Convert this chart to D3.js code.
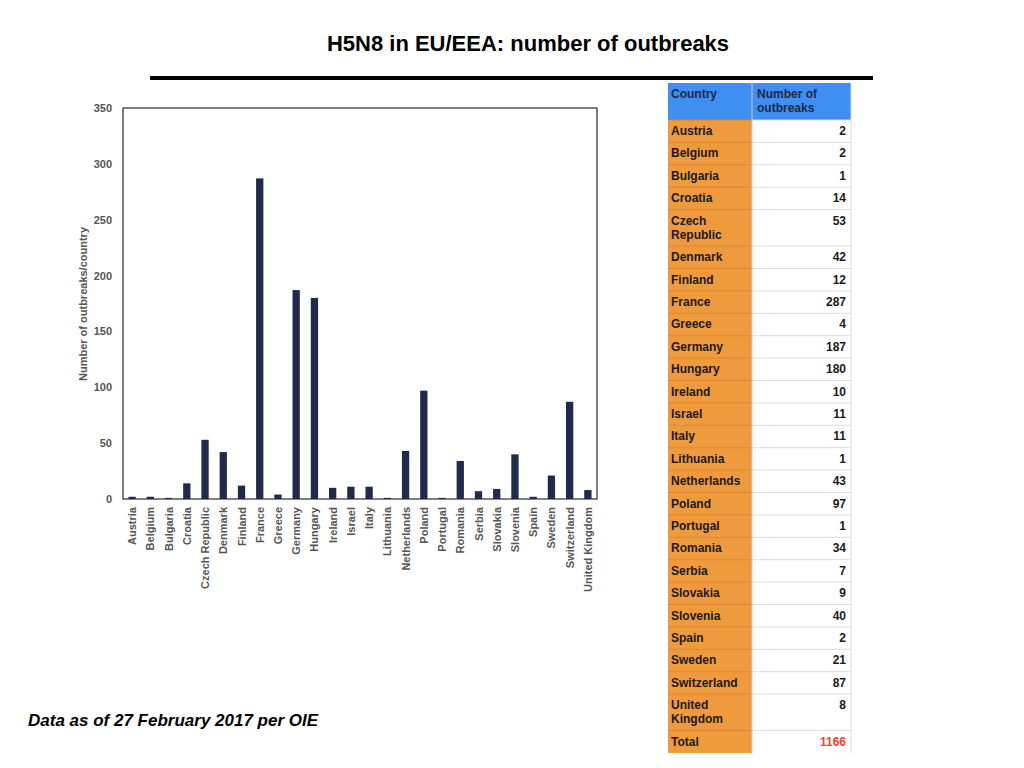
<!DOCTYPE html>
<html><head><meta charset="utf-8">
<script src="https://cdn.jsdelivr.net/npm/d3@7"></script>
<style>body{margin:0;background:#fff;font-family:"Liberation Sans",Arial,sans-serif}</style>
</head><body>
<svg id="c" width="1024" height="768"></svg>
<script>
const countries = ["Austria","Belgium","Bulgaria","Croatia","Czech Republic","Denmark","Finland","France","Greece","Germany","Hungary","Ireland","Israel","Italy","Lithuania","Netherlands","Poland","Portugal","Romania","Serbia","Slovakia","Slovenia","Spain","Sweden","Switzerland","United Kingdom"];
const outbreaks = [2,2,1,14,53,42,12,287,4,187,180,10,11,11,1,43,97,1,34,7,9,40,2,21,87,8];
const yTicks = [0,50,100,150,200,250,300,350];
const total = 1166;

const svg = d3.select("#c");

svg.append("text").attr("x",528).attr("y",51).attr("text-anchor","middle")
  .attr("font-size",22).attr("font-weight","bold").text("H5N8 in EU/EEA: number of outbreaks");
svg.append("rect").attr("x",150).attr("y",76).attr("width",723).attr("height",4).attr("fill","#000");

// chart
const m = {left:123, top:108, right:597, bottom:499};
const x = d3.scaleBand().domain(countries).range([m.left,m.right]).paddingInner(0.6).paddingOuter(0.3);
const y = d3.scaleLinear().domain([0,350]).range([m.bottom,m.top]);

svg.append("rect").attr("x",m.left).attr("y",m.top).attr("width",m.right-m.left).attr("height",m.bottom-m.top)
  .attr("fill","none").attr("stroke","#000").attr("stroke-width",1);

svg.selectAll(".yt").data(yTicks).enter().append("text")
  .attr("x",112).attr("y",d=>y(d)+4).attr("text-anchor","end")
  .attr("font-size",11).attr("font-weight","bold").attr("fill","#555").text(d=>d);

svg.append("text").attr("transform","translate(87,304)rotate(-90)").attr("text-anchor","middle")
  .attr("font-size",11).attr("font-weight","bold").attr("fill","#555").text("Number of outbreaks/country");

svg.selectAll(".bar").data(countries).enter().append("rect")
  .attr("x",d=>x(d)).attr("width",x.bandwidth())
  .attr("y",(d,i)=>y(outbreaks[i])).attr("height",(d,i)=>y(0)-y(outbreaks[i]))
  .attr("fill","#1f2a4d");

svg.selectAll(".xl").data(countries).enter().append("text")
  .attr("transform",d=>`translate(${x(d)+x.bandwidth()/2+4},507)rotate(-90)`)
  .attr("text-anchor","end").attr("font-size",11).attr("font-weight","bold").attr("fill","#555").text(d=>d);

// table
const tx0 = 668, tx1 = 752, tx2 = 851;
const hdr = svg.append("g");
hdr.append("rect").attr("x",tx0).attr("y",83).attr("width",tx2-tx0).attr("height",37).attr("fill","#3f8ef2");
hdr.append("text").attr("x",671).attr("y",98).attr("font-size",12).attr("font-weight","bold").attr("fill","#1a2a4a").text("Country");
hdr.append("text").attr("x",757).attr("y",98).attr("font-size",12).attr("font-weight","bold").attr("fill","#1a2a4a").text("Number of");
hdr.append("text").attr("x",757).attr("y",112).attr("font-size",12).attr("font-weight","bold").attr("fill","#1a2a4a").text("outbreaks");

const rows = countries.map((c,i)=>({name:c, val:outbreaks[i]})).concat([{name:"Total", val:total, total:true}]);
let ry = 120;
rows.forEach(r=>{
  const lines = (r.name==="Czech Republic"||r.name==="United Kingdom") ? r.name.split(" ") : [r.name];
  const h = lines.length>1 ? 36.5 : 22.4;
  svg.append("rect").attr("x",tx0).attr("y",ry).attr("width",tx1-tx0).attr("height",h).attr("fill","#f09a3e");
  svg.append("line").attr("x1",tx0).attr("x2",tx1).attr("y1",ry).attr("y2",ry).attr("stroke","#d9852f");
  svg.append("line").attr("x1",tx1).attr("x2",tx2).attr("y1",ry).attr("y2",ry).attr("stroke","#ddd");
  lines.forEach((l,k)=>svg.append("text").attr("x",671).attr("y",ry+15+k*14)
    .attr("font-size",12).attr("font-weight","bold").attr("fill","#1a1a1a").text(l));
  svg.append("text").attr("x",846).attr("y",ry+15).attr("text-anchor","end")
    .attr("font-size",12).attr("font-weight","bold").attr("fill",r.total?"#e8472a":"#1a1a1a").text(r.val);
  ry += h;
});
svg.append("line").attr("x1",tx1).attr("x2",tx1).attr("y1",83).attr("y2",ry).attr("stroke","#ccc");
svg.append("line").attr("x1",tx2).attr("x2",tx2).attr("y1",83).attr("y2",ry).attr("stroke","#ddd");

svg.append("text").attr("x",28).attr("y",726).attr("font-size",17).attr("font-weight","bold")
  .attr("font-style","italic").text("Data as of 27 February 2017 per OIE");
</script>
</body></html>
